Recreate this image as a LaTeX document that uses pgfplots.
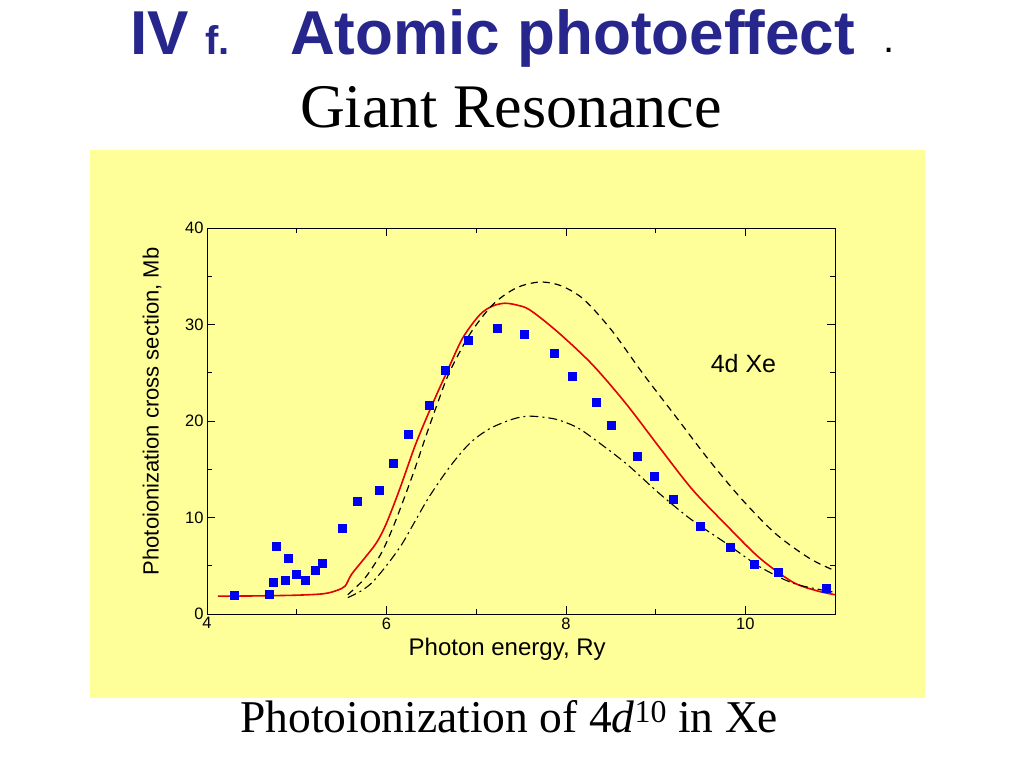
\documentclass[border=0pt]{standalone}
\usepackage{fontspec}
\setmainfont{Liberation Sans}
\newfontfamily\tnr{Liberation Serif}
\usepackage{pgfplots}
\pgfplotsset{compat=1.18}
\definecolor{slideyellow}{RGB}{255,255,153}
\definecolor{titleblue}{RGB}{38,38,140}
\definecolor{curvered}{RGB}{228,0,0}
\definecolor{ptblue}{RGB}{0,0,240}
\begin{document}
\begin{tikzpicture}[x=1pt,y=1pt]
\useasboundingbox (0,0) rectangle (1024,768);
\fill[white] (0,0) rectangle (1024,768);
\fill[slideyellow] (90,70) rectangle (925,618);
% title
\node[anchor=base west, inner sep=0, text=titleblue, font=\fontsize{62}{62}\selectfont\bfseries] at (130,713) {IV};
\node[anchor=base west, inner sep=0, text=titleblue, font=\fontsize{40}{40}\selectfont\bfseries] at (205,713) {f.};
\node[anchor=base west, inner sep=0, text=titleblue, font=\fontsize{62}{62}\selectfont\bfseries] at (290,713) {Atomic photoeffect};
\node[anchor=base west, inner sep=0, text=black, font=\fontsize{40}{40}\selectfont] at (883,715) {.};
\node[anchor=base west, inner sep=0, font=\fontsize{62}{62}\selectfont\tnr] at (300,640) {Giant Resonance};
\node[anchor=base west, inner sep=0, font=\fontsize{45.5}{45.5}\selectfont\tnr] at (240,36) {Photoionization of 4\textit{d}\textsuperscript{10} in Xe};
\begin{axis}[
  at={(207pt,154pt)}, anchor=south west,
  scale only axis, width=628pt, height=386pt,
  xmin=4, xmax=11, ymin=0, ymax=40,
  xtick={4,6,8,10}, minor xtick={5,7,9},
  ytick={0,10,20,30,40}, minor ytick={5,15,25,35},
  tick align=inside,
  major tick length=8pt, minor tick length=5pt,
  tick style={black, line width=0.7pt},
  axis line style={black, line width=0.9pt},
  /pgf/number format/assume math mode=true,
  ticklabel style={font=\fontsize{16.5}{16.5}\selectfont},
  xlabel={Photon energy, Ry},
  ylabel={Photoionization cross section, Mb},
  xlabel style={font=\fontsize{24}{24}\selectfont, at={(axis description cs:0.478,-0.0907)}, anchor=center},
  ylabel style={font=\fontsize{22}{22}\selectfont, at={(axis description cs:-0.0876,0.525)}, anchor=center},
  clip=false,
]
\addplot[curvered, line width=1.6pt, smooth] coordinates {
(4.12,1.85) (4.5,1.87) (5.0,1.95) (5.3,2.1) (5.45,2.45) (5.54,2.9) (5.61,4.1) (5.74,5.6) (5.89,7.4) (6.0,9.4) (6.15,13.0) (6.33,17.7) (6.52,21.9) (6.67,25.0) (6.85,28.6) (7.04,31.0) (7.18,31.9) (7.32,32.2) (7.46,32.0) (7.6,31.5) (7.9,29.3) (8.29,25.9) (8.67,21.8) (9.04,17.3) (9.41,12.9) (9.79,9.2) (10.16,5.8) (10.53,3.3) (10.8,2.4) (11.0,2.0)
};
\addplot[black, line width=1.2pt, dash pattern=on 7pt off 5pt, smooth] coordinates {
(5.57,2.0) (5.74,3.5) (5.85,4.9) (5.96,6.6) (6.10,9.6) (6.30,14.6) (6.45,18.7) (6.58,22.1) (6.70,25.0) (6.93,29.0) (7.19,32.1) (7.45,33.8) (7.71,34.4) (7.95,34.0) (8.2,32.6) (8.51,29.4) (8.86,24.9) (9.23,20.4) (9.60,15.9) (9.97,11.8) (10.34,8.3) (10.71,5.8) (10.97,4.6)
};
\addplot[black, line width=1.1pt, dash pattern=on 9pt off 4pt on 2pt off 4pt, smooth] coordinates {
(5.57,1.7) (5.72,2.4) (5.85,3.35) (6.02,5.25) (6.17,7.2) (6.30,9.3) (6.48,12.2) (6.71,15.3) (6.93,17.7) (7.15,19.2) (7.41,20.2) (7.60,20.5) (7.88,20.2) (8.11,19.4) (8.29,18.3) (8.67,15.6) (9.04,12.5) (9.41,9.7) (9.79,7.3) (10.16,4.9) (10.53,3.2) (10.9,2.4) (10.98,2.3)
};
\addplot[only marks, mark=square*, mark size=4pt, mark options={draw=ptblue, fill=ptblue}] coordinates {
(4.30,1.97) (4.69,2.07) (4.74,3.3) (4.77,7.05) (4.87,3.5) (4.90,5.8) (4.99,4.1) (5.10,3.55) (5.21,4.5) (5.28,5.3) (5.51,8.9) (5.67,11.7) (5.92,12.85) (6.07,15.6) (6.24,18.65) (6.48,21.65) (6.66,25.3) (6.91,28.4) (7.24,29.65) (7.54,29.0) (7.87,27.0) (8.07,24.6) (8.34,21.9) (8.50,19.6) (8.80,16.4) (8.98,14.3) (9.20,11.9) (9.50,9.05) (9.83,6.9) (10.10,5.15) (10.37,4.3) (10.90,2.7)
};
\node[anchor=center, font=\fontsize{25}{25}\selectfont] at (axis cs:9.98,26.0) {4d Xe};
\end{axis}
\end{tikzpicture}
\end{document}
